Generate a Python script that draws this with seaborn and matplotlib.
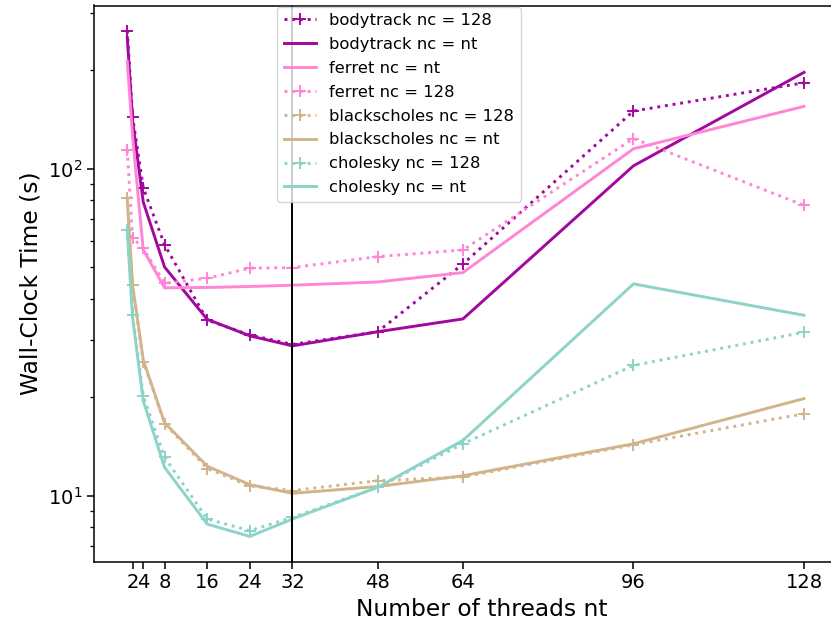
import matplotlib
matplotlib.use("Agg")
import matplotlib.pyplot as plt
import seaborn as sns
import pandas as pd

# Thread counts and measured wall-clock times (seconds)
threads = [1, 2, 4, 8, 16, 24, 32, 48, 64, 96, 128]
xticks = [2, 4, 8, 16, 24, 32, 48, 64, 96, 128]

bodytrack_128 = [264, 144, 87.3, 58.5, 34.4, 31.0, 29.0, 31.7, 51.1, 150, 183]
bodytrack_nt = [252, 140, 79, 50, 34.6, 30.8, 28.7, 31.7, 34.7, 102, 197]
ferret_nt = [213, 125, 56.5, 43.2, 43.3, 43.6, 44.0, 45.0, 48.1, 115, 155]
ferret_128 = [114, 61.5, 57, 44.6, 46.2, 49.6, 49.8, 53.8, 56.4, 123.6, 77.2]
blackscholes_128 = [81.3, 44.0, 25.7, 16.6, 12.1, 10.7, 10.36, 11.1, 11.4, 14.3, 17.8]
blackscholes_nt = [80.5, 44.0, 26.0, 16.7, 12.3, 10.8, 10.16, 10.66, 11.5, 14.4, 19.8]
cholesky_128 = [65.0, 35.6, 20.2, 13.1, 8.48, 7.81, 8.58, 10.6, 14.4, 25.0, 31.6]
cholesky_nt = [64.5, 35.0, 19.5, 12.2, 8.18, 7.5, 8.48, 10.6, 14.75, 44.4, 35.6]

purple = "#a2089f"
pink = "#ff85d5"
tan = "#d2b48c"
teal = "#8dd3c7"

series = [
    ("bodytrack nc = 128", bodytrack_128, purple, ":"),
    ("bodytrack nc = nt", bodytrack_nt, purple, "-"),
    ("ferret nc = nt", ferret_nt, pink, "-"),
    ("ferret nc = 128", ferret_128, pink, ":"),
    ("blackscholes nc = 128", blackscholes_128, tan, ":"),
    ("blackscholes nc = nt", blackscholes_nt, tan, "-"),
    ("cholesky nc = 128", cholesky_128, teal, ":"),
    ("cholesky nc = nt", cholesky_nt, teal, "-"),
]

plt.rcParams["font.family"] = ["DejaVu Sans"]
fig = plt.figure(figsize=(8.31, 6.29), dpi=100)
W, H = 831, 629
left, right, top, bottom = 93.7, 869.0, 5.5, 561.7
ax = fig.add_axes([left / W, (H - bottom) / H, (right - left) / W, (bottom - top) / H])

for label, values, color, ls in series:
    df = pd.DataFrame({"nt": threads, "time": values})
    kw = dict(linestyle=ls, linewidth=2.1, color=color, label=label)
    if ls == ":":
        kw.update(marker="+", markersize=8.4, markeredgewidth=1.4,
                  markeredgecolor=color)
    sns.lineplot(data=df, x="nt", y="time", ax=ax, **kw)

ax.axvline(32, color="black", linewidth=1.4)

ax.set_yscale("log")
ax.set_xlim(-5.3, 140.2)
ax.set_xticks(xticks)
ax.set_xticklabels([str(t) for t in xticks])
ax.tick_params(axis="both", which="major", labelsize=14, length=4.9, width=1.1)
ax.tick_params(axis="y", which="minor", length=2.8, width=0.9)
for s in ax.spines.values():
    s.set_linewidth(1.1)

ax.set_xlabel("Number of threads nt", fontsize=16.8)
ax.set_ylabel("Wall-Clock Time (s)", fontsize=16.8)

ax.legend(loc="upper left", bbox_to_anchor=((277 - left) / (right - left), 0.998),
          borderaxespad=0, fontsize=11.8, labelspacing=0.54, framealpha=0.8)

fig.savefig("out.png", dpi=100)
